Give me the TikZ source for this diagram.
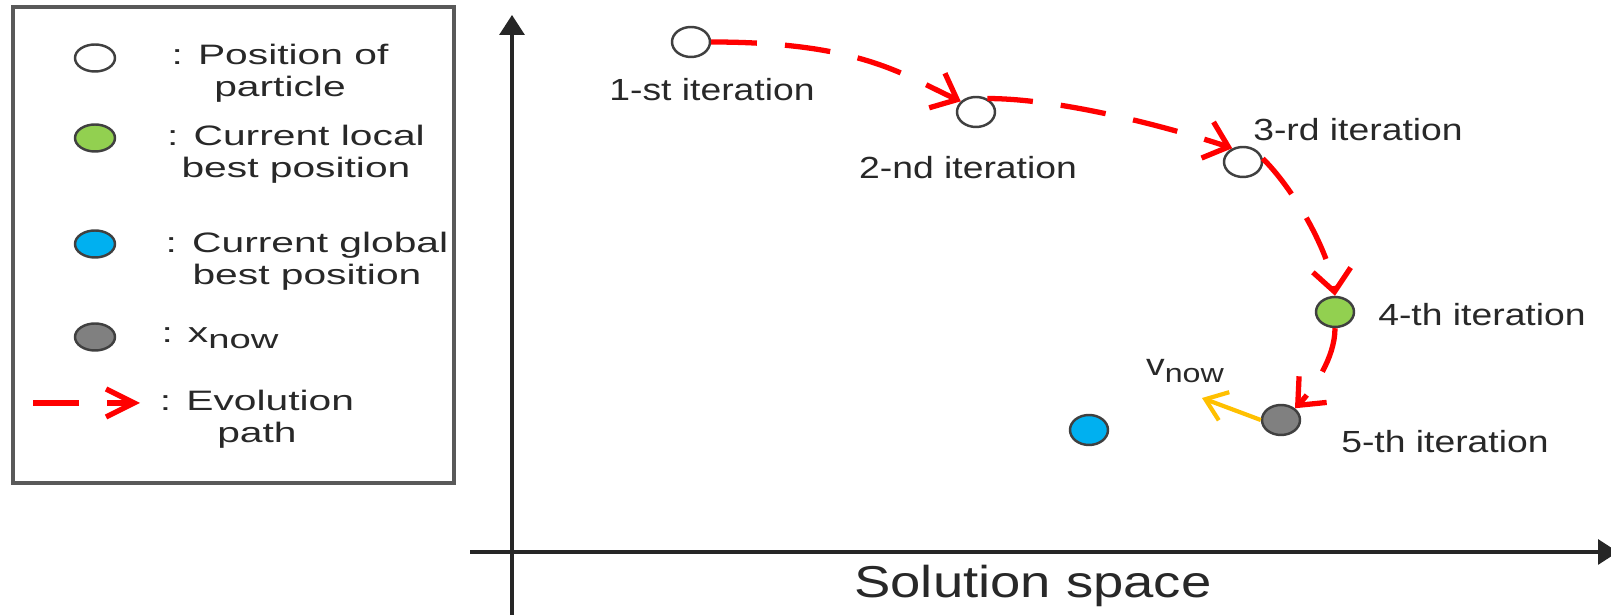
\documentclass[tikz,border=0pt]{standalone}
\usepackage{fontspec}
\setmainfont{Liberation Sans}[FakeStretch=1.22]
\newfontfamily\legfont{Liberation Sans}[FakeStretch=1.45]
\usetikzlibrary{arrows.meta,shapes.geometric}
\definecolor{pathred}{RGB}{255,0,0}
\definecolor{localgreen}{RGB}{146,208,80}
\definecolor{globalblue}{RGB}{0,176,240}
\definecolor{nowgrey}{RGB}{128,128,128}
\definecolor{velyellow}{RGB}{255,192,0}
\definecolor{txtgrey}{RGB}{40,40,40}
\newcommand{\subnow}{\raisebox{-0.4ex}{\fontsize{7.5}{8}\selectfont now}}

\begin{document}
\begin{tikzpicture}[x=0.1mm,y=-0.1mm,
  particle/.style={ellipse,draw=black!75,line width=0.7pt,minimum width=3.8mm,minimum height=3mm,inner sep=0pt},
  legdot/.style={particle,minimum width=4mm,minimum height=2.7mm},
  evopath/.style={pathred,line width=1.5pt,dash pattern=on 13pt off 8pt,-{Straight Barb[length=2.2mm,width=3.8mm]}},
  itlabel/.style={text=txtgrey,font=\fontsize{8.7}{10}\selectfont},
  legtext/.style={text=txtgrey,align=center,font=\legfont\fontsize{8}{9}\selectfont},
  axis/.style={line width=0.9pt,black!85,-{Triangle[length=2mm,width=2.5mm]}}]
\useasboundingbox (0,0) rectangle (1611,615);

% Legend
\draw[black!65,line width=0.9pt] (13,7) rectangle (454,483);
\node[legdot,fill=white] (legpos) at (95,58) {};
\node[legtext] (legpostxt) at (280,73) {: Position of\\particle};
\node[legdot,fill=localgreen] (legloc) at (95,138) {};
\node[legtext] (legloctxt) at (296,154) {: Current local\\best position};
\node[legdot,fill=globalblue] (legglob) at (95,244) {};
\node[legtext] (legglobtxt) at (307,261) {: Current global\\best position};
\node[legdot,fill=nowgrey] (legnow) at (95,337) {};
\node[legtext] (legnowtxt) at (220,338) {: x\subnow};
\coordinate (legevoa) at (33,403);
\coordinate (legevob) at (140,403);
\draw[evopath,-{Straight Barb[length=2.8mm,width=2.8mm]}] (legevoa) -- (legevob);
\node[legtext] (legevotxt) at (257,419) {: Evolution\\path};

% Axes
\coordinate (yfoot) at (512,615);
\coordinate (ytop) at (512,15);
\coordinate (xfoot) at (470,552);
\coordinate (xtop) at (1618,552);
\draw[axis] (yfoot) -- (ytop);
\draw[axis] (xfoot) -- (xtop);
\node[text=txtgrey,font=\fontsize{12.7}{14}\selectfont] (space) at (1033,586) {Solution space};

% Particles
\node[particle,fill=white] (p1) at (691,42) {};
\node[particle,fill=white] (p2) at (976,112) {};
\node[particle,fill=white] (p3) at (1243,162) {};
\node[particle,fill=localgreen] (p4) at (1335,312) {};
\node[particle,fill=nowgrey] (p5) at (1281,420) {};
\node[particle,fill=globalblue] (gbest) at (1089,430) {};

\node[itlabel] (it1) at (712,90) {1-st iteration};
\node[itlabel] (it2) at (968,168) {2-nd iteration};
\node[itlabel] (it3) at (1358,130) {3-rd iteration};
\node[itlabel] (it4) at (1482,315) {4-th iteration};
\node[itlabel] (it5) at (1445,442) {5-th iteration};

% Evolution path
\draw[evopath] (p1.east) .. controls +(150,0) and +(-57,-26) .. (p2.145);
\draw[evopath] (p2.50) .. controls +(75,0) and +(-60,-20) .. (p3.128);
\draw[evopath] (p3.10) .. controls +(35,35) and +(-5,-40) .. (p4.north);
\draw[evopath] (p4.south) .. controls +(0,30) and +(18,-19) .. (p5.40);

% Velocity
\coordinate (vtip) at (1202,398);
\draw[velyellow,line width=1.2pt,-{Straight Barb[length=2mm,width=3mm]}] (p5.west) -- (vtip);
\node[itlabel] (vnow) at (1185,371) {v\subnow};
\end{tikzpicture}
\end{document}
